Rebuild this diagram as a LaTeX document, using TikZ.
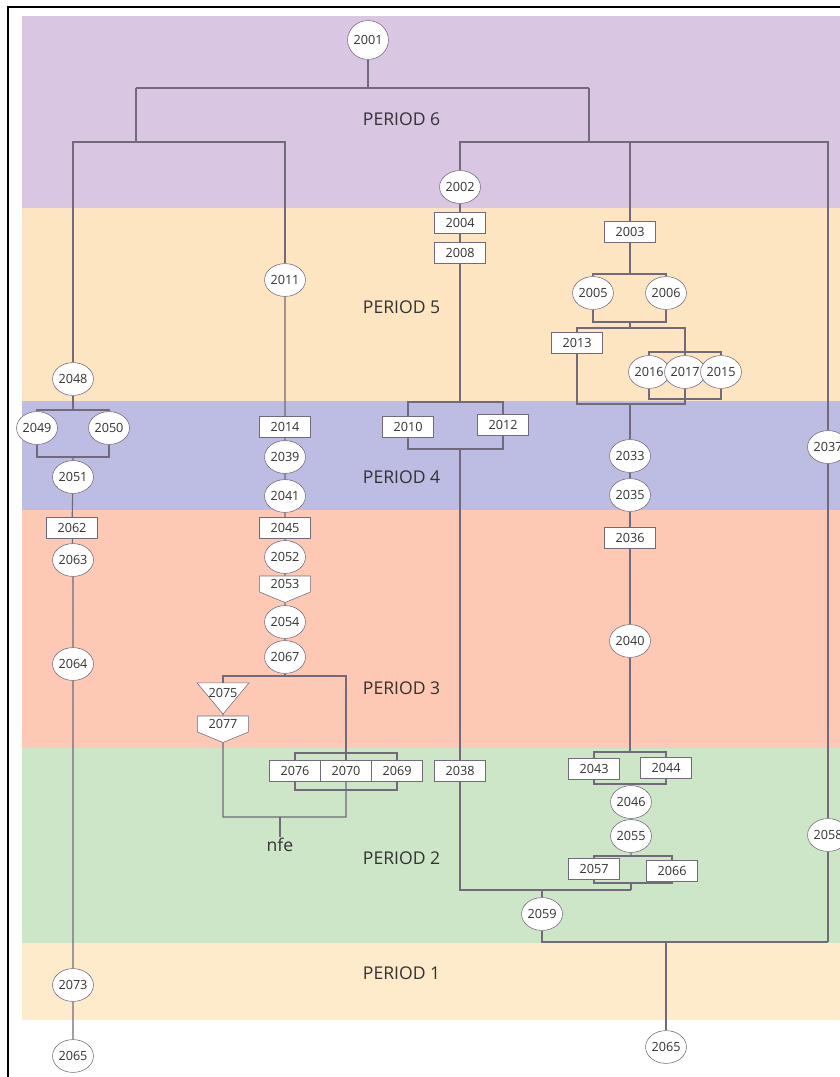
\documentclass[tikz,border=0pt]{standalone}
\usepackage{fontspec}
\setmainfont{Open Sans}
\usetikzlibrary{positioning, shapes.geometric, shapes.symbols}

\definecolor{wire}{HTML}{72697A}
\definecolor{txt}{HTML}{333333}
\definecolor{bandsix}{HTML}{D9C6E3}
\definecolor{bandfive}{HTML}{FEE5C2}
\definecolor{bandfour}{HTML}{BDBCE3}
\definecolor{bandthree}{HTML}{FDC9B4}
\definecolor{bandtwo}{HTML}{CEE6C8}
\definecolor{bandone}{HTML}{FEEBCB}

\newcommand{\yrfont}{\fontsize{9}{10}\selectfont}

\begin{document}
\begin{tikzpicture}[
    x=0.025cm, y=-0.025cm,
    yr/.style={ellipse, draw=wire, fill=white, minimum width=9mm, minimum height=8.2mm, inner sep=0pt, font=\yrfont, text=txt},
    yrbox/.style={rectangle, draw=wire, fill=white, minimum width=12.7mm, minimum height=5.3mm, inner sep=0pt, font=\yrfont, text=txt},
    yrpent/.style={signal, signal to=south, signal pointer angle=135, draw=wire, fill=white, minimum width=12.7mm, minimum height=5.5mm, inner sep=0pt, font=\yrfont, text=txt},
    yrtri/.style={isosceles triangle, shape border rotate=-90, isosceles triangle apex angle=80, isosceles triangle stretches, draw=wire, fill=white, minimum width=13mm, minimum height=7.8mm, inner sep=0pt},
    link/.style={draw=wire, line width=0.8pt},
    period/.style={anchor=west, font=\fontsize{12.5}{14}\selectfont, text=txt}
]
\useasboundingbox (0,0) rectangle (840,1077);

% Bands
\fill[bandsix]   (22,16)  rectangle (840,208);
\fill[bandfive]  (22,208) rectangle (840,401);
\fill[bandfour]  (22,401) rectangle (840,510);
\fill[bandthree] (22,510) rectangle (840,748);
\fill[bandtwo]   (22,748) rectangle (840,943);
\fill[bandone]   (22,943) rectangle (840,1020);
\draw[black, line width=1pt] (8,1077) -- (8,7) -- (840,7);

% Period labels
\node[period] (per6) at (358,119) {PERIOD 6};
\node[period] (per5) at (358,307) {PERIOD 5};
\node[period] (per4) at (358,477) {PERIOD 4};
\node[period] (per3) at (358,688) {PERIOD 3};
\node[period] (per2) at (358,858) {PERIOD 2};
\node[period] (per1) at (358,973) {PERIOD 1};

% Junctions
\coordinate (j6) at (368,88);
\coordinate (j6L) at (136,88);
\coordinate (j6R) at (589,88);
\coordinate (aL) at (136,142);
\coordinate (aR) at (589,142);

% Root
\node[yr, minimum width=9.7mm, minimum height=9.7mm] (n2001) at (368,40) {2001};

% Column A
\node[yr] (n2048) at (73,379) {2048};
\node[yr] (n2049) at (37,428) {2049};
\node[yr] (n2050) at (109,428) {2050};
\node[yr] (n2051) at (73,477) {2051};
\node[yrbox] (n2062) at (72,528) {2062};
\node[yr] (n2063) at (73,560) {2063};
\node[yr] (n2064) at (73,664) {2064};
\node[yr] (n2073) at (73,985) {2073};
\node[yr] (n2065a) at (73,1056) {2065};
\coordinate (a4top) at (73,410);
\coordinate (a4bot) at (73,457);

% Column B
\node[yr] (n2011) at (285,280) {2011};
\node[yrbox] (n2014) at (285,427) {2014};
\node[yr] (n2039) at (285,457) {2039};
\node[yr] (n2041) at (285,496) {2041};
\node[yrbox] (n2045) at (285,528) {2045};
\node[yr] (n2052) at (285,557) {2052};
\node[yrpent] (n2053) at (285,584) {2053};
\node[yr] (n2054) at (285,622) {2054};
\node[yr] (n2067) at (285,657) {2067};
\coordinate (j67L) at (223,676);
\coordinate (j67R) at (346,676);
\node[yrtri] (n2075) at (223,695) {};
\node[font=\yrfont, text=txt, inner sep=0pt, below=1.3mm of n2075.north] (t2075) {2075};
\node[yrpent] (n2077) at (223,724) {2077};
\node[yrbox] (n2076) at (295,771) {2076};
\node[yrbox] (n2070) at (346,771) {2070};
\node[yrbox] (n2069) at (397,771) {2069};
\coordinate (k3top) at (346,753);
\coordinate (k3bot) at (346,790);
\coordinate (k3L) at (223,817);
\coordinate (k3R) at (346,817);
\coordinate (nfetop) at (280,817);
\node[font=\fontsize{12.5}{14}\selectfont, text=txt, inner sep=1pt] (nfe) at (280,845) {nfe};

% Column C
\node[yr] (n2002) at (460,187) {2002};
\node[yrbox] (n2004) at (460,223) {2004};
\node[yrbox] (n2008) at (460,253) {2008};
\coordinate (c4top) at (460,402);
\coordinate (c4bot) at (460,449);
\node[yrbox] (n2010) at (408,427) {2010};
\node[yrbox] (n2012) at (503,425) {2012};
\node[yrbox] (n2038) at (460,771) {2038};

% Column D
\node[yrbox] (n2003) at (630,232) {2003};
\coordinate (d5top) at (630,274);
\coordinate (d5bot) at (630,322);
\node[yr] (n2005) at (593,293) {2005};
\node[yr] (n2006) at (666,293) {2006};
\coordinate (d6top) at (630,328);
\coordinate (d6bot) at (630,404);
\node[yrbox] (n2013) at (577,343) {2013};
\coordinate (d7top) at (685,352);
\coordinate (d7bot) at (685,399);
\node[yr] (n2016) at (649,372) {2016};
\node[yr] (n2017) at (685,372) {2017};
\node[yr] (n2015) at (721,372) {2015};
\node[yr] (n2033) at (630,456) {2033};
\node[yr] (n2035) at (630,495) {2035};
\node[yrbox] (n2036) at (630,538) {2036};
\node[yr] (n2040) at (630,641) {2040};
\coordinate (d3top) at (630,752);
\coordinate (d3bot) at (630,784);
\node[yrbox] (n2043) at (594,769) {2043};
\node[yrbox] (n2044) at (666,768) {2044};
\node[yr] (n2046) at (631,802) {2046};
\node[yr] (n2055) at (631,836) {2055};
\coordinate (d2top) at (631,856);
\coordinate (d2bot) at (631,883);
\node[yrbox] (n2057) at (594,869) {2057};
\node[yrbox] (n2066) at (672,871) {2066};
\coordinate (d1R) at (631,890);
\node[yr] (n2059) at (542,914) {2059};
\coordinate (eL) at (542,942);
\coordinate (eR) at (828,942);
\node[yr] (n2065b) at (666,1047) {2065};

% Column E
\node[yr] (n2037) at (828,447) {2037};
\node[yr] (n2058) at (828,835) {2058};

% Connectors
\begin{scope}[link]
\draw (n2001) -- (j6);
\draw (j6L) -- (j6R);
\draw (j6L) -- (aL);
\draw (j6R) -- (aR);
\draw (n2048) |- (aL) -| (n2011);
\draw (n2002) |- (aR) -| (n2037);
\draw (n2003) -- (n2003 |- aR);

% column A
\draw (n2048) -- (a4top);
\draw (n2049) |- (a4top) -| (n2050);
\draw (n2049) |- (a4bot) -| (n2050);
\draw (a4bot) -- (n2051) -- (n2062) -- (n2063) -- (n2064) -- (n2073) -- (n2065a);

% column B
\draw (n2011) -- (n2014) -- (n2039) -- (n2041) -- (n2045) -- (n2052) -- (n2053) -- (n2054) -- (n2067);
\draw (n2067) -- (n2067 |- j67L);
\draw (n2075) -- (j67L) -- (j67R) -- (n2070);
\draw (n2075) -- (n2077);
\draw (n2076) |- (k3top) -| (n2069);
\draw (n2076) |- (k3bot) -| (n2069);
\draw (n2070) -- (k3R) -- (k3L) -- (n2077);
\draw (nfetop) -- (nfe);

% column C
\draw (n2002) -- (n2004) -- (n2008) -- (c4top);
\draw (n2010) |- (c4top) -| (n2012);
\draw (n2010) |- (c4bot) -| (n2012);
\draw (c4bot) -- (n2038);
\draw (n2038) |- (d1R);

% column D
\draw (n2003) -- (d5top);
\draw (n2005) |- (d5top) -| (n2006);
\draw (n2005) |- (d5bot) -| (n2006);
\draw (d5bot) -- (d6top);
\draw (n2013) |- (d6top) -| (n2017);
\draw (n2013) |- (d6bot) -| (n2017);
\draw (n2016) |- (d7top) -| (n2015);
\draw (n2016) |- (d7bot) -| (n2015);
\draw (d6bot) -- (n2033) -- (n2035) -- (n2036) -- (n2040) -- (d3top);
\draw (n2043) |- (d3top) -| (n2044);
\draw (n2043) |- (d3bot) -| (n2044);
\draw (d3bot) -- (n2046) -- (n2055) -- (d2top);
\draw (n2057) |- (d2top) -| (n2066);
\draw (n2057) |- (d2bot) -| (n2066);
\draw (d2bot) -- (d1R);
\draw (n2059) -- (n2059 |- d1R);
\draw (n2059) -- (eL) -- (eR);
\draw (n2065b) -- (n2065b |- eR);

% column E
\draw (n2037) -- (n2058) -- (eR);
\end{scope}

\end{tikzpicture}
\end{document}
